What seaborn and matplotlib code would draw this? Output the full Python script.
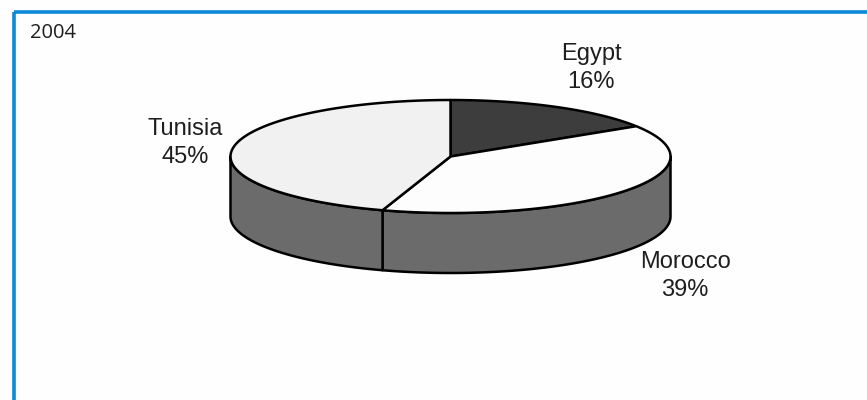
import numpy as np
import matplotlib
matplotlib.use("Agg")
import matplotlib.pyplot as plt
from matplotlib.patches import Polygon, Rectangle
import seaborn as sns

# Share of total by country, 2004
countries = ["Egypt", "Morocco", "Tunisia"]
shares = [16, 39, 45]
year_label = "2004"

top_colors = ["#3d3d3d", "#fdfdfd", "#f1f1f1"]
side_color = "#6b6b6b"

sns.set_theme(style="white")
plt.rcParams["font.family"] = ["Liberation Sans", "DejaVu Sans"]

fig = plt.figure(figsize=(8.67, 4.00), dpi=100)
ax = fig.add_axes([0, 0, 1, 1])
ax.set_xlim(0, 867)
ax.set_ylim(400, 0)
ax.axis("off")
fig.patch.set_facecolor("#fefefe")

# pie geometry (pixel space of the canvas)
cx, cy = 450.5, 156.5
rx, ry = 220.0, 56.5
depth = 60.0


def pt(theta_deg, dz=0.0):
    t = np.radians(theta_deg)
    return cx + rx * np.cos(t), cy - ry * np.sin(t) + dz


def arc(t1, t2, dz=0.0, n=200):
    ts = np.linspace(t1, t2, n)
    return np.array([pt(t, dz) for t in ts])


# slices run clockwise from 12 o'clock
fractions = np.array(shares, dtype=float) / sum(shares)
bounds = []
start = 90.0
for f in fractions:
    end = start - f * 360.0
    bounds.append((end, start))
    start = end

# side walls: only the front half (180..360 deg) is visible
for lo, hi in bounds:
    for shift in (0.0, 360.0, -360.0):
        a1, a2 = max(lo + shift, 180.0), min(hi + shift, 360.0)
        if a2 > a1:
            top = arc(a1, a2)
            bot = arc(a2, a1, depth)
            poly = np.vstack([top, bot])
            ax.add_patch(Polygon(poly, closed=True, facecolor=side_color,
                                 edgecolor="black", lw=1.8, joinstyle="round",
                                 zorder=2))

# top faces
for (lo, hi), col in zip(bounds, top_colors):
    edge = arc(lo, hi)
    poly = np.vstack([[cx, cy], edge])
    ax.add_patch(Polygon(poly, closed=True, facecolor=col, edgecolor="black",
                         lw=1.8, joinstyle="round", zorder=3))

# labels
label_pos = {"Egypt": (591, 68), "Morocco": (685, 276), "Tunisia": (185, 143)}
for name, val in zip(countries, shares):
    x, y = label_pos[name]
    ax.text(x, y, f"{name}\n{val}%", ha="center", va="center", fontsize=17,
            color="#1e1e1e", linespacing=1.3, zorder=4)

ax.text(30, 33.5, year_label, ha="left", va="center", fontsize=14.5,
        family=["Open Sans", "DejaVu Sans"], color="#1e1e1e")

# frame
ax.add_patch(Rectangle((13.5, 11.5), 900, 500, fill=False,
                       edgecolor="#0b8ad6", lw=2.6, zorder=5))

fig.savefig("out.png", dpi=100, facecolor=fig.get_facecolor())
